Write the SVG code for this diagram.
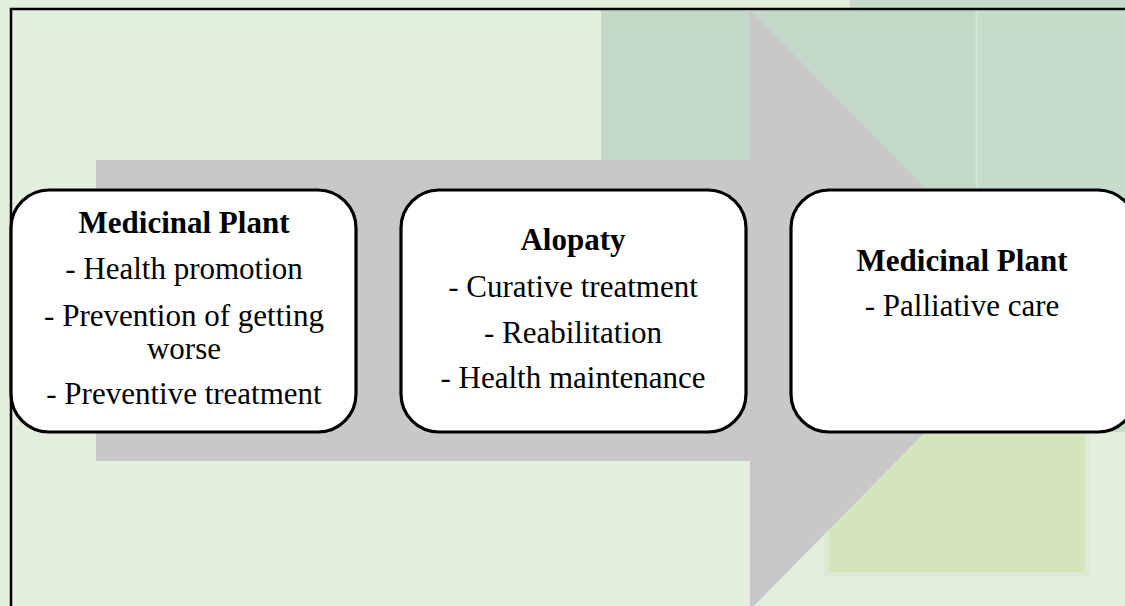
<svg xmlns="http://www.w3.org/2000/svg" width="1125" height="606" viewBox="0 0 1125 606">
  <style>
    .box { fill: #ffffff; stroke: #000000; stroke-width: 3.2; }
    .t { font-family: 'Liberation Serif', 'DejaVu Serif', serif; font-size: 31px; fill: #000000; text-anchor: middle; }
    .b { font-weight: bold; }
  </style>
  <!-- background -->
  <rect x="0" y="0" width="1125" height="606" fill="#E3EEDC"/>
  <rect x="601" y="10" width="524" height="422" fill="#C3D8C8"/>
  <rect x="850" y="0" width="275" height="10" fill="#C5DCCB"/>
  <rect x="977" y="10" width="148" height="422" fill="#C6DDCC"/>
  <rect x="975.5" y="10" width="2" height="422" fill="#D2E5D6"/>
  <rect x="824" y="420" width="266" height="157" fill="#DCEBD3"/>
  <rect x="829" y="420" width="256" height="152" fill="#D3E5BA"/>
  <!-- frame -->
  <path d="M11,606 V9 H1125" fill="none" stroke="#000000" stroke-width="2.5"/>
  <!-- big flow arrow -->
  <g id="flow-arrow">
    <path d="M96,160 H750 V10 L1045,310 L750,610 V461 H96 Z" fill="#C8C8C8"/>
  </g>
  <g id="connectors"></g>
  <!-- nodes -->
  <g id="node-medicinal-plant-1">
    <rect class="box" x="11" y="190" width="345" height="242" rx="38" ry="38"/>
    <text class="t b" x="184" y="233" font-family="Liberation Serif, DejaVu Serif, serif">Medicinal Plant</text>
    <text class="t" x="184" y="279" font-family="Liberation Serif, DejaVu Serif, serif">- Health promotion</text>
    <text class="t" x="184" y="326" font-family="Liberation Serif, DejaVu Serif, serif">- Prevention of getting</text>
    <text class="t" x="184" y="359" font-family="Liberation Serif, DejaVu Serif, serif">worse</text>
    <text class="t" x="184" y="404" font-family="Liberation Serif, DejaVu Serif, serif">- Preventive treatment</text>
  </g>
  <g id="node-alopaty">
    <rect class="box" x="401" y="190" width="345" height="242" rx="38" ry="38"/>
    <text class="t b" x="573" y="250" font-family="Liberation Serif, DejaVu Serif, serif">Alopaty</text>
    <text class="t" x="573" y="297" font-family="Liberation Serif, DejaVu Serif, serif">- Curative treatment</text>
    <text class="t" x="573" y="343" font-family="Liberation Serif, DejaVu Serif, serif">- Reabilitation</text>
    <text class="t" x="573" y="388" font-family="Liberation Serif, DejaVu Serif, serif">- Health maintenance</text>
  </g>
  <g id="node-medicinal-plant-2">
    <rect class="box" x="791" y="190" width="345" height="242" rx="38" ry="38"/>
    <text class="t b" x="962" y="271" font-family="Liberation Serif, DejaVu Serif, serif">Medicinal Plant</text>
    <text class="t" x="962" y="316" font-family="Liberation Serif, DejaVu Serif, serif">- Palliative care</text>
  </g>
</svg>
